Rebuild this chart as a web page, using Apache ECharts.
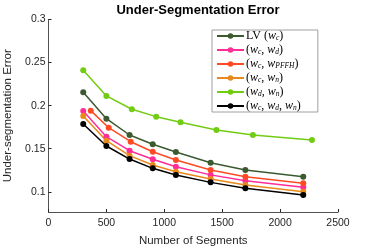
<!DOCTYPE html>
<html><head><meta charset="utf-8">
<script src="https://cdn.jsdelivr.net/npm/echarts@6/dist/echarts.min.js"></script>
<style>html,body{margin:0;padding:0;background:#fff}#c{width:374px;height:249px}</style>
</head><body><div id="c"></div>
<script>
var xCommon = [300, 500, 700, 900, 1100, 1400, 1700, 2200];
var xRed = [365, 520, 710, 900, 1100, 1400, 1700, 2200];
var xGreen = [300, 500, 720, 930, 1140, 1450, 1765, 2275];
var lvWc = [0.2156, 0.1849, 0.1659, 0.1551, 0.1462, 0.1337, 0.1252, 0.1174];
var wcWd = [0.1938, 0.1640, 0.1477, 0.1377, 0.1291, 0.1196, 0.1128, 0.1051];
var wcWpfh = [0.1942, 0.1744, 0.1581, 0.1465, 0.1369, 0.1252, 0.1174, 0.1098];
var wcWn = [0.1880, 0.1593, 0.1419, 0.1310, 0.1233, 0.1148, 0.1078, 0.1000];
var wdWn = [0.2412, 0.2113, 0.1958, 0.1872, 0.1807, 0.1717, 0.1659, 0.1601];
var wcWdWn = [0.1787, 0.1531, 0.1380, 0.1272, 0.1194, 0.1109, 0.1040, 0.0962];
var yTicks = [0.1, 0.15, 0.2, 0.25, 0.3];

function pairs(xs, ys) { return xs.map(function (x, i) { return [x, ys[i]]; }); }

var seriesDefs = [
  {name: 'lv', x: xCommon, y: lvWc, color: '#3b5a30'},
  {name: 'wcwd', x: xCommon, y: wcWd, color: '#ff2d96'},
  {name: 'wcwp', x: xRed, y: wcWpfh, color: '#ff4a24'},
  {name: 'wcwn', x: xCommon, y: wcWn, color: '#e8891c'},
  {name: 'wdwn', x: xGreen, y: wdWn, color: '#72cc12'},
  {name: 'all', x: xCommon, y: wcWdWn, color: '#000000'}
];
var legendText = {
  lv: '{n|LV (}{i|w}{s|c}{n|)}',
  wcwd: '{n|(}{i|w}{s|c}{n|, }{i|w}{s|d}{n|)}',
  wcwp: '{n|(}{i|w}{s|c}{n|, }{i|w}{s|PFFH}{n|)}',
  wcwn: '{n|(}{i|w}{s|c}{n|, }{i|w}{s|n}{n|)}',
  wdwn: '{n|(}{i|w}{s|d}{n|, }{i|w}{s|n}{n|)}',
  all: '{n|(}{i|w}{s|c}{n|, }{i|w}{s|d}{n|, }{i|w}{s|n}{n|)}'
};

var chart = echarts.init(document.getElementById('c'));
var axisCol = '#262626';
chart.setOption({
  animation: false,
  backgroundColor: '#fff',
  title: {
    text: 'Under-Segmentation Error', left: 193, textAlign: 'center', top: -1,
    textStyle: {fontFamily: 'Liberation Sans', fontSize: 13, fontWeight: 'bold', color: '#000'}
  },
  grid: {left: 48.5, right: 36, top: 19.5, bottom: 37, outerBoundsMode: 'none', containLabel: false},
  legend: {
    orient: 'vertical', left: 212, top: 30,
    padding: [0, 17, 0, 4], itemGap: 2, itemWidth: 27, itemHeight: 7,
    backgroundColor: '#fff', borderColor: '#a0a0a0', borderWidth: 1,
    formatter: function (n) { return legendText[n]; },
    textStyle: {
      padding: [0, 0, 0, -3],
      rich: {
        n: {fontFamily: 'Liberation Serif', fontSize: 12, color: '#000', lineHeight: 12},
        i: {fontFamily: 'Liberation Serif', fontStyle: 'italic', fontSize: 12, color: '#000', lineHeight: 12},
        s: {fontFamily: 'Liberation Serif', fontStyle: 'italic', fontSize: 7.5, color: '#000', lineHeight: 6, verticalAlign: 'bottom'}
      }
    }
  },
  xAxis: {
    type: 'value', min: 0, max: 2500, interval: 500,
    name: 'Number of Segments', nameLocation: 'middle', nameGap: 23,
    nameTextStyle: {fontFamily: 'Liberation Sans', fontSize: 11.5, color: axisCol},
    axisLine: {lineStyle: {color: axisCol, width: 0.8}},
    axisTick: {inside: true, length: 3, lineStyle: {color: axisCol}},
    axisLabel: {fontFamily: 'Liberation Sans', fontSize: 10.5, color: axisCol, margin: 6,
      formatter: function (v) { return String(v); }},
    splitLine: {show: false}
  },
  yAxis: {
    type: 'value', min: 0.0765, max: 0.3,
    name: 'Under-segmentation Error', nameLocation: 'middle', nameGap: 22,
    nameTextStyle: {fontFamily: 'Liberation Sans', fontSize: 11.5, color: axisCol},
    axisLine: {show: true, lineStyle: {color: axisCol, width: 0.8}},
    axisTick: {show: true, inside: true, length: 3, lineStyle: {color: axisCol}, customValues: yTicks},
    axisLabel: {fontFamily: 'Liberation Sans', fontSize: 10.5, color: axisCol, margin: 3,
      customValues: yTicks, formatter: function (v) { return String(+v.toFixed(2)); }},
    splitLine: {show: false}
  },
  series: seriesDefs.map(function (d) {
    return {
      name: d.name, type: 'line', data: pairs(d.x, d.y),
      symbol: 'circle', symbolSize: 6,
      lineStyle: {color: d.color, width: 1.5},
      itemStyle: {color: d.color}
    };
  })
});
</script></body></html>
